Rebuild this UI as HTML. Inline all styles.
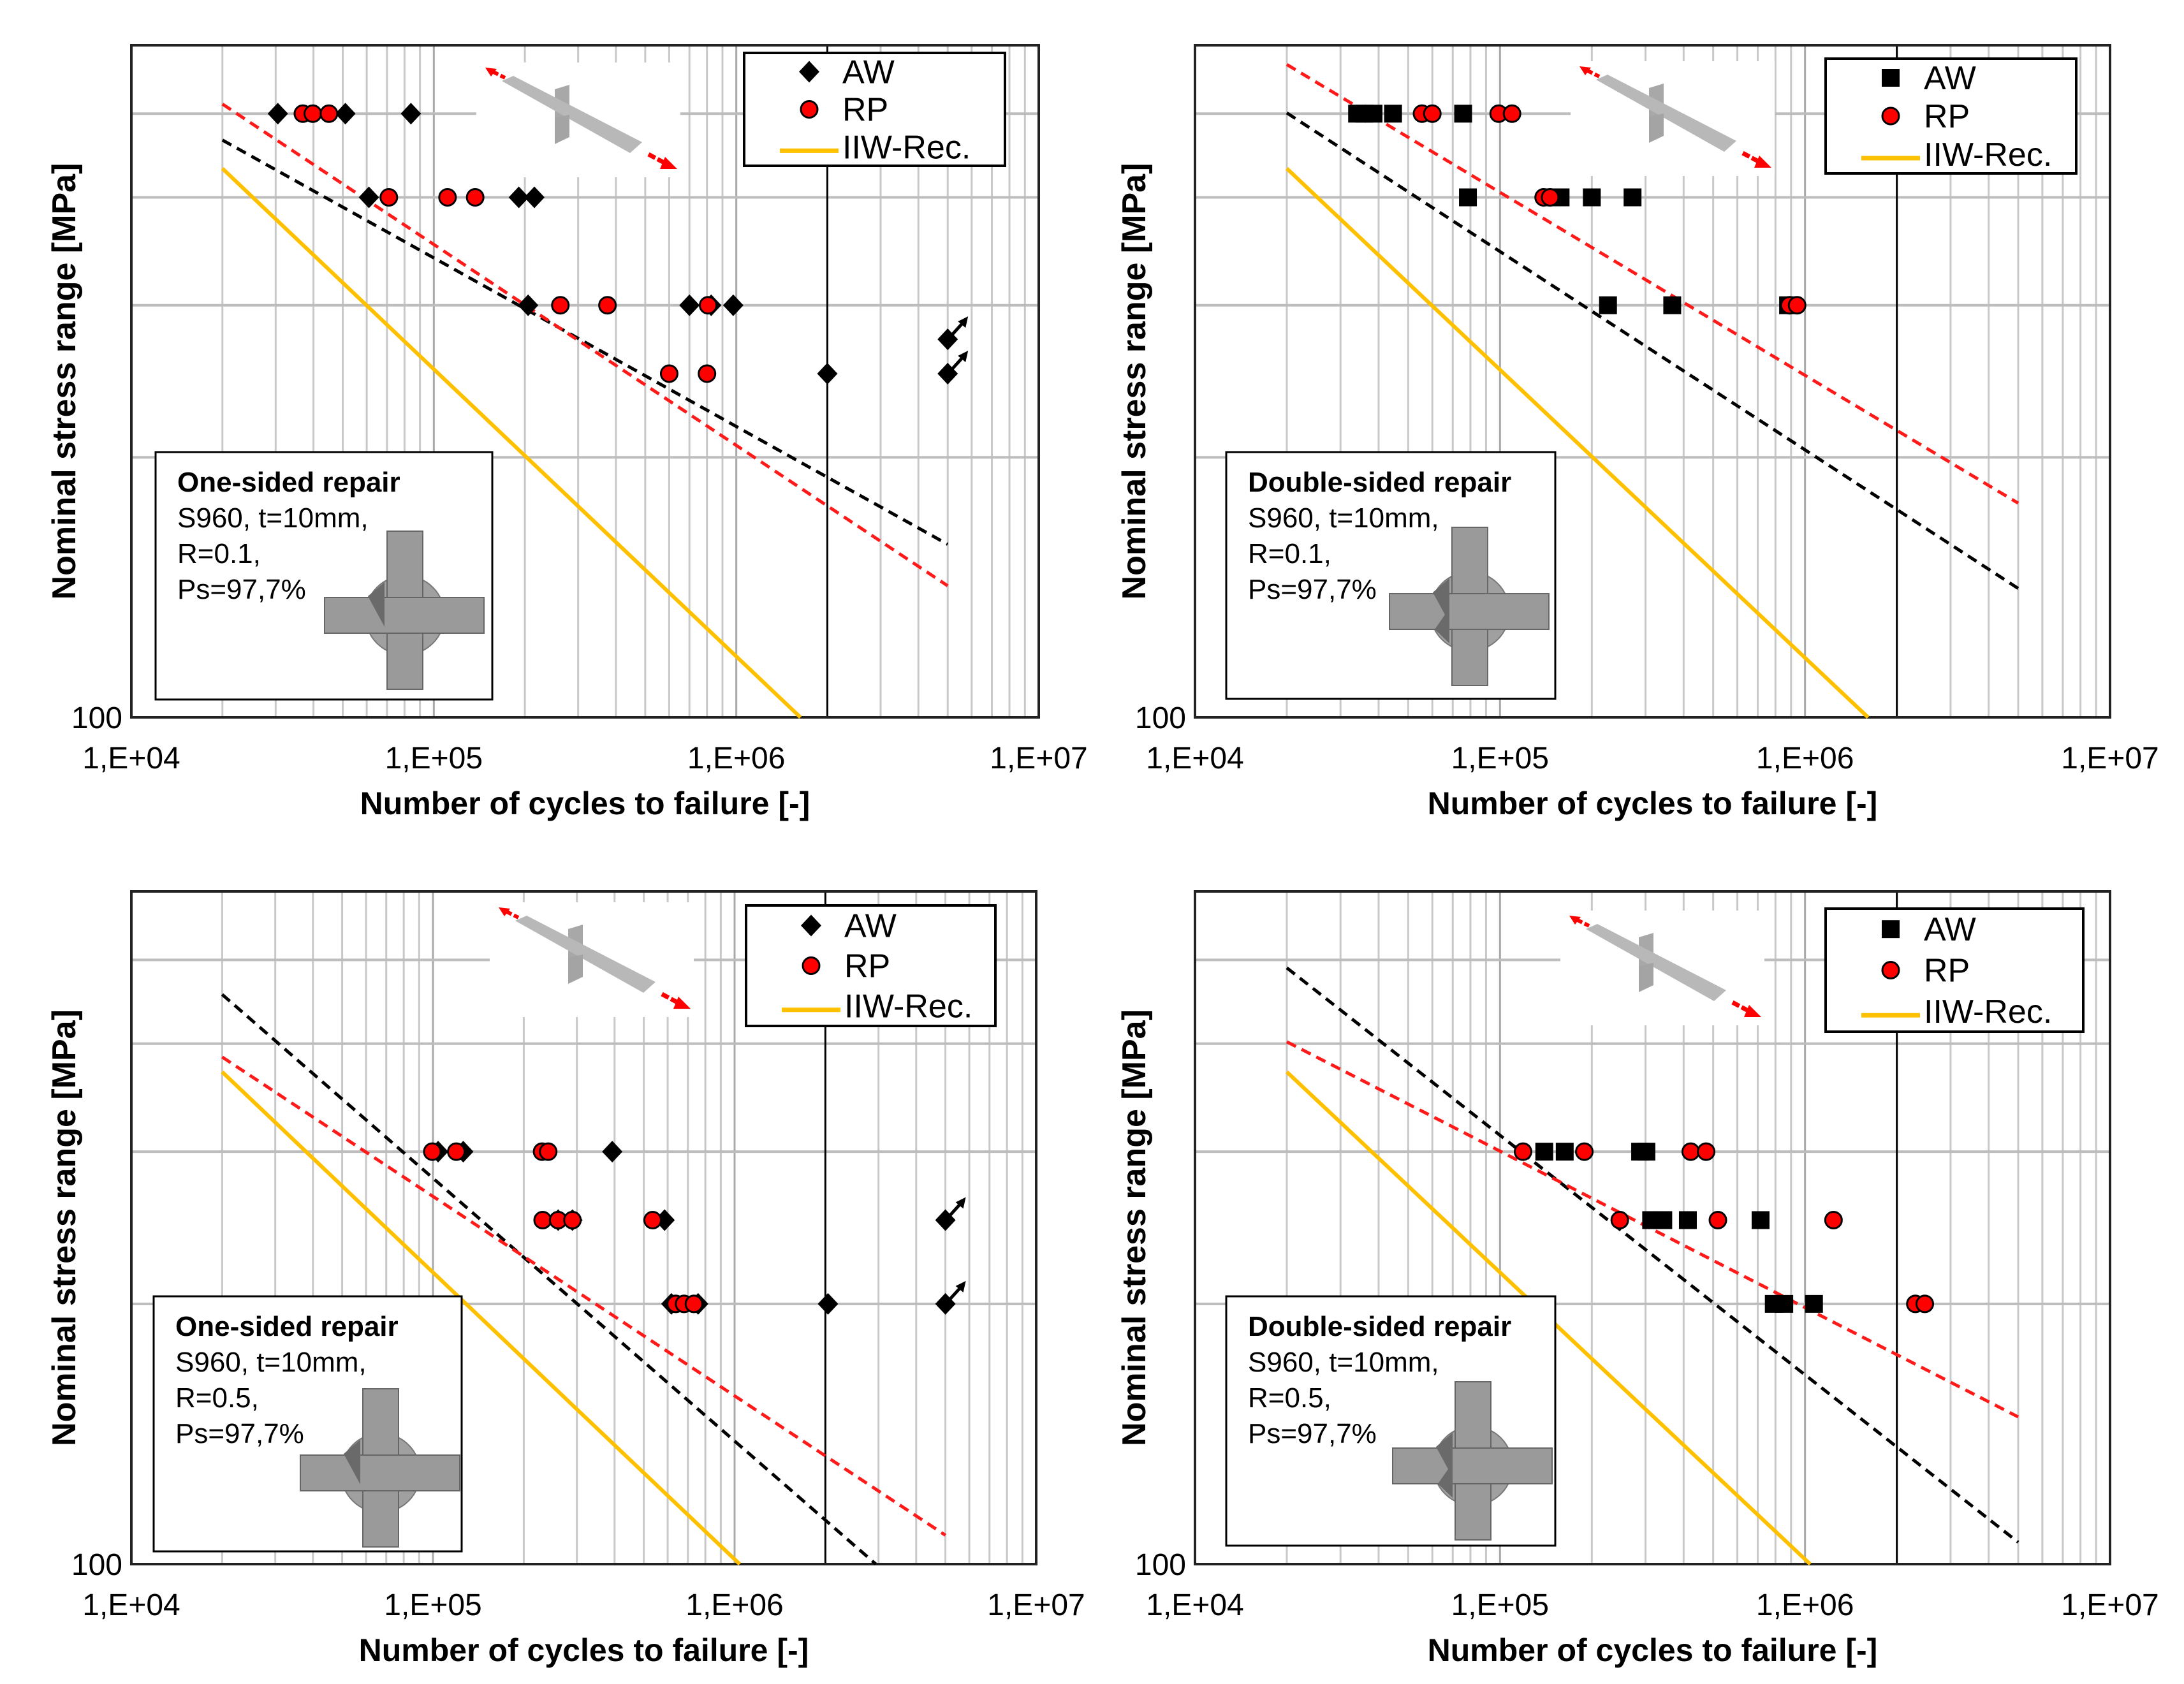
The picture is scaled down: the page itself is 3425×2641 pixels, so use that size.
<!DOCTYPE html>
<html><head><meta charset="utf-8">
<style>html,body{margin:0;padding:0;background:#fff;}svg{display:block;font-family:"Liberation Sans",Arial,sans-serif;}</style>
</head><body>
<svg id="chart" width="3425" height="2641" viewBox="0 0 3425 2641" xmlns="http://www.w3.org/2000/svg"></svg>
<script>
// ---- data: [cycles N, stress range MPa] ----
const tlAW = [[30500,500],[51000,500],[84000,500],[61000,400],[191000,400],[215000,400],[205000,300],[700000,300],[826000,300],[977000,300],[2000000,250]];
const tlAWrun = [[5000000,274],[5000000,250]];
const tlRP = [[36900,500],[39800,500],[45000,500],[71000,400],[111000,400],[137000,400],[262000,300],[375000,300],[807000,300],[600000,250],[800000,250]];
const tlFitAW = [[20000,466],[5000000,158.6]];
const tlFitRP = [[20000,513],[5000000,142]];
const tlIIW = [[20000,432],[1630000,100]];

const trAW = [[34000,500],[35900,500],[38500,500],[44600,500],[75700,500],[78500,400],[150000,400],[158000,400],[200000,400],[272000,400],[226000,300],[367000,300],[880000,300]];
const trAWrun = [];
const trRP = [[55500,500],[60000,500],[99000,500],[109500,500],[139000,400],[146000,400],[889000,300],[942000,300]];
const trFitAW = [[20000,501],[5000000,141]];
const trFitRP = [[20000,570],[5000000,177]];
const trIIW = [[20000,432],[1610000,100]];

const blAW = [[104000,300],[126000,300],[393000,300],[260000,250],[290000,250],[586000,250],[617000,200],[757000,200],[2040000,200]];
const blAWrun = [[5000000,250],[5000000,200]];
const blRP = [[99500,300],[119500,300],[230000,300],[241000,300],[231000,250],[260000,250],[290000,250],[535000,250],[638000,200],[680000,200],[733000,200]];
const blFitAW = [[20000,456],[2940000,100]];
const blFitRP = [[20000,386],[5000000,108]];
const blIIW = [[20000,371],[1040000,100]];

const brAW = [[139700,300],[163000,300],[288000,300],[302000,300],[313000,250],[343000,250],[413000,250],[715000,250],[790000,200],[855000,200],[1070000,200]];
const brAWrun = [];
const brRP = [[119000,300],[189000,300],[422000,300],[474000,300],[247000,250],[518000,250],[1240000,250],[2300000,200],[2470000,200]];
const brFitAW = [[20000,489.5],[5000000,106]];
const brFitRP = [[20000,402],[5000000,148]];
const brIIW = [[20000,371],[1040000,100]];

const xTickLabels = ["1,E+04","1,E+05","1,E+06","1,E+07"];
const yGridValues = [200,300,400,500];

const NS = "http://www.w3.org/2000/svg";
const svg = document.getElementById('chart');
function el(tag, attrs, parent){const e=document.createElementNS(NS,tag);for(const k in attrs)e.setAttribute(k,attrs[k]);(parent||svg).appendChild(e);return e;}

const panels = [
 {id:'tl',x0:206,x1:1629,y0:71,y1:1125,marker:'diamond',AW:tlAW,run:tlAWrun,RP:tlRP,fa:tlFitAW,fr:tlFitRP,iiw:tlIIW,
  title:'One-sided repair',r:'R=0.1,',leg:[1167,83,409,177],box:[244,709,528,388],cross:[635,965],spec:[767,110],ytx:100,double:false,pct:'Ps=97,7%'},
 {id:'tr',x0:1874,x1:3309,y0:71,y1:1125,marker:'square',AW:trAW,run:trAWrun,RP:trRP,fa:trFitAW,fr:trFitRP,iiw:trIIW,
  title:'Double-sided repair',r:'R=0.1,',leg:[2863,92,393,180],box:[1923,709,516,387],cross:[2305,959],spec:[2483,108],ytx:1778,double:true,pct:'Ps=97,7%'},
 {id:'bl',x0:206,x1:1625,y0:1398,y1:2453,marker:'diamond',AW:blAW,run:blAWrun,RP:blRP,fa:blFitAW,fr:blFitRP,iiw:blIIW,
  title:'One-sided repair',r:'R=0.5,',leg:[1170,1420,391,189],box:[241,2033,483,400],cross:[597,2310],spec:[788,1427],ytx:100,double:false,pct:'Ps=97,7%'},
 {id:'br',x0:1874,x1:3309,y0:1398,y1:2453,marker:'square',AW:brAW,run:brAWrun,RP:brRP,fa:brFitAW,fr:brFitRP,iiw:brIIW,
  title:'Double-sided repair',r:'R=0.5,',leg:[2863,1425,404,193],box:[1923,2033,516,391],cross:[2310,2299],spec:[2467,1440],ytx:1778,double:true,pct:'Ps=97,7%'}
];

function drawMarker(g,type,x,y){
  let m;
  if(type==='diamond'){m=el('polygon',{points:`${x},${y-17} ${x+16},${y} ${x},${y+17} ${x-16},${y}`,fill:'#000'},g);}
  else if(type==='square'){m=el('rect',{x:x-14,y:y-14,width:28,height:28,fill:'#000'},g);}
  else {m=el('circle',{cx:x,cy:y,r:13,fill:'#ff0000',stroke:'#000','stroke-width':3},g);}
  return m;
}

panels.forEach(p=>{
  const W=p.x1-p.x0, H=p.y1-p.y0;
  const xs=n=>p.x0+(Math.log10(n)-4)/3*W;
  const ys=s=>p.y1-Math.log10(s/100)/Math.log10(6)*H;
  const g=el('g',{});
  
  
  for(let d=4;d<7;d++)for(let k=2;k<=9;k++){const x=xs(k*Math.pow(10,d));
    const ln=el('line',{x1:x,x2:x,y1:p.y0,y2:p.y1,stroke:'#c8c8c8','stroke-width':3},g);
    }
  for(let d=5;d<7;d++){const x=xs(Math.pow(10,d));
    const ln=el('line',{x1:x,x2:x,y1:p.y0,y2:p.y1,stroke:'#a8a8a8','stroke-width':3},g);
    }
  yGridValues.forEach(v=>{const y=ys(v);
    const ln=el('line',{x1:p.x0,x2:p.x1,y1:y,y2:y,stroke:'#bdbdbd','stroke-width':4},g);
    });
  const rl=el('line',{x1:xs(2e6),x2:xs(2e6),y1:p.y0,y2:p.y1,stroke:'#000','stroke-width':3},g);
  
  const fr=el('rect',{x:p.x0,y:p.y0,width:W,height:H,fill:'none',stroke:'#222','stroke-width':4},g);
  
  // specimen picture
  const [sx,sy]=p.spec;
  const sp=el('g',{transform:`translate(${sx},${sy})`},g);
  
  el('rect',{x:-20,y:-12,width:320,height:180,fill:'#fff'},sp);
  el('polygon',{points:'103,30 126,23 126,80 103,88',fill:'#a8a8a8'},sp);
  el('polygon',{points:'20,17 38,9 240,113 221,130',fill:'#b8b8b8'},sp);
  el('polygon',{points:'103,75 126,70 126,105 103,116',fill:'#a4a4a4'},sp);
  el('line',{x1:25,y1:12,x2:5,y2:2,stroke:'#f00','stroke-width':6,'stroke-dasharray':'8 4'},sp);
  el('polygon',{points:'-6,-4 12,-2 3,10',fill:'#f00'},sp);
  el('line',{x1:250,y1:132,x2:278,y2:147,stroke:'#f00','stroke-width':7,'stroke-dasharray':'12 4'},sp);
  el('polygon',{points:'276,136 295,155 268,155',fill:'#f00'},sp);
  const lines=[[p.iiw,'#ffc000',null,'iiw-rec-line'],[p.fa,'#000','16 10','aw-fit-line'],[p.fr,'#ff1a1a','16 10','rp-fit-line']];
  lines.forEach(([d,c,da,nm])=>{
    const a={x1:xs(d[0][0]),y1:ys(d[0][1]),x2:xs(d[1][0]),y2:ys(d[1][1]),stroke:c,'stroke-width':d===p.iiw?6:5};
    if(da)a['stroke-dasharray']=da;
    const ln=el('line',a,g);
    
  });
  p.AW.forEach(d=>{const m=drawMarker(g,p.marker,xs(d[0]),ys(d[1]));
    });
  p.run.forEach(d=>{const x=xs(d[0]),y=ys(d[1]);const m=drawMarker(g,'diamond',x,y);
    
    const a=el('line',{x1:x+4,y1:y-4,x2:x+24,y2:y-26,stroke:'#000','stroke-width':5},g);
    
    el('polygon',{points:`${x+32},${y-36} ${x+16},${y-28} ${x+28},${y-18}`,fill:'#000'},g);});
  p.RP.forEach(d=>{const m=drawMarker(g,'circle',xs(d[0]),ys(d[1]));
    });
  xTickLabels.forEach((t,i)=>{const tx=el('text',{x:p.x0+i*W/3,y:p.y1+80,'font-size':48,'text-anchor':'middle',fill:'#000'},g);tx.textContent=t;
    });
  const y100=el('text',{x:p.x0-14,y:p.y1+17,'font-size':48,'text-anchor':'end',fill:'#000'},g);y100.textContent='100';
  
  const xt=el('text',{x:(p.x0+p.x1)/2,y:p.y1+152,'font-size':50,'font-weight':'bold','text-anchor':'middle',fill:'#000'},g);
  xt.textContent='Number of cycles to failure [-]';
  
  const yc=(p.y0+p.y1)/2;
  const yt=el('text',{x:p.ytx,y:yc,'font-size':52,'font-weight':'bold','text-anchor':'middle',fill:'#000',transform:`rotate(-90 ${p.ytx} ${yc}) translate(0 18)`},g);
  yt.textContent=p.id==='bl'?'Nominal stress range  [MPa]':'Nominal stress range [MPa]';
  
  const [lx,ly,lw,lh]=p.leg;
  const lg=el('g',{},g);
  
  el('rect',{x:lx,y:ly,width:lw,height:lh,fill:'#fff',stroke:'#000','stroke-width':4},lg);
  const mx=lx+102, dy=lh/3;
  drawMarker(lg,p.marker,mx,ly+dy*0.5);
  drawMarker(lg,'circle',mx,ly+dy*1.5);
  el('line',{x1:mx-46,x2:mx+46,y1:ly+dy*2.6,y2:ly+dy*2.6,stroke:'#ffc000','stroke-width':7},lg);
  [['AW',0.5],['RP',1.5],['IIW-Rec.',2.5]].forEach(([t,k])=>{const tx=el('text',{x:mx+52,y:ly+dy*k+18,'font-size':52,fill:'#000'},lg);tx.textContent=t;
    });
  const [bx,by,bw,bh]=p.box;
  const ab=el('g',{},g);
  
  el('rect',{x:bx,y:by,width:bw,height:bh,fill:'#fff',stroke:'#000','stroke-width':3},ab);
  [[p.title,true],['S960, t=10mm,',false],[p.r,false],[p.pct,false]].forEach(([t,b],i)=>{
    const tx=el('text',{x:bx+34,y:by+62+i*56,'font-size':44,'font-weight':b?'bold':'normal',fill:'#000'},ab);tx.textContent=t;
    });
  const [cx,cy]=p.cross;
  const cs=el('g',{},ab);
  
  el('circle',{cx:cx,cy:cy,r:62,fill:'#a0a0a0',stroke:'#777','stroke-width':2},cs);
  el('rect',{x:cx-28,y:cy-132,width:56,height:248,fill:'#9a9a9a',stroke:'#666','stroke-width':2},cs);
  el('rect',{x:cx-126,y:cy-28,width:250,height:56,fill:'#9a9a9a',stroke:'#666','stroke-width':2},cs);
  el('path',{d:`M${cx-58},${cy-30} L${cx-32},${cy-52} L${cx-32},${cy+18} Q${cx-58},${cy}${cx-58},${cy-30}Z`,fill:'#6a6a6a'},cs);
  if(p.double) el('path',{d:`M${cx-32},${cy-5} L${cx-32},${cy+50} L${cx-55},${cy+28} Z`,fill:'#6a6a6a'},cs);
});
</script>
</body></html>
